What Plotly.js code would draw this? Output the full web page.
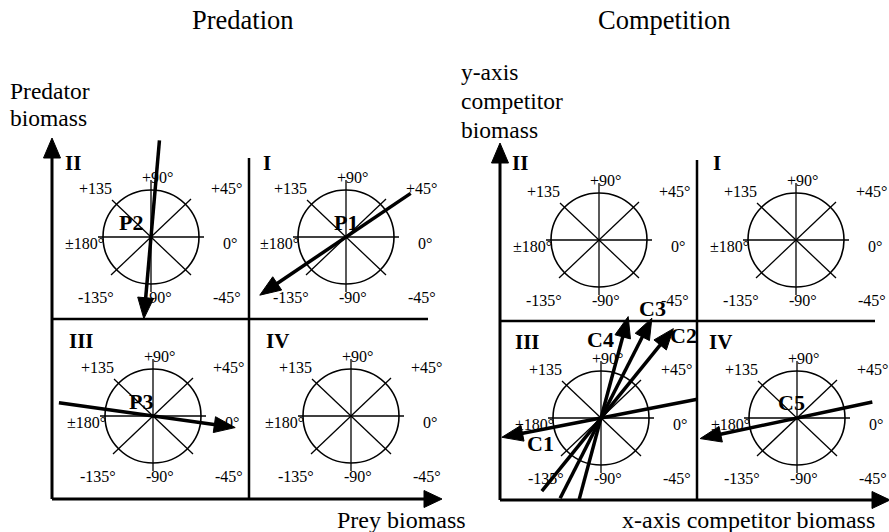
<!DOCTYPE html>
<html><head><meta charset="utf-8">
<script src="https://cdn.plot.ly/plotly-3.0.1.min.js"></script>
<style>html,body{margin:0;padding:0;background:#fff}</style>
</head><body><div id="plot" style="width:889px;height:532px"></div>
<script>
// ---- data ----
const quadrants = ['I', 'II', 'III', 'IV'];
const dirLabels = ['+90°', '+135', '+45°', '±180°', '0°', '-135°', '-90°', '-45°'];
const dirLabelOffsets = [[6,-60],[-56,-49],[75,-49],[-67,6],[79,6],[-55,60],[7,60],[76,60]];

const predNames = ['P1', 'P2', 'P3'];
const predQuad = ['I', 'II', 'III'];
const predAngle = [-146, -95, -8];      // degrees, direction of arrow head
const predHeadLen = [104, 82, 83];       // distance centre -> tip
const predTailLen = [78, 97, 95];        // distance centre -> tail
const predLabelPos = [[0,-15],[-20,-15],[-12,-15]];

const compNames = ['C1', 'C2', 'C3', 'C4', 'C5'];
const compQuad = ['III', 'III', 'III', 'III', 'IV'];
const compAngle = [-169, 51, 63, 75, -168];
const compHeadLen = [101, 115, 112, 105, 99];
const compTailLen = [98, 94, 90, 84, 77];
const compLabelPos = [[-61,25],[82,-83],[51,-110],[-1,-79],[-6,-16]];

// ---- panel geometry (layout, not data) ----
const panels = [
  {ox:52, oy:499, ytip:138, xtip:442, vdx:249, vdTop:158, hdy:319, hdEnd:428,
   centers:{I:[346,237], II:[151,237], III:[153,416], IV:[351,416]},
   numerals:{I:[267,163], II:[73,163], III:[81,341], IV:[277,341]}},
  {ox:500, oy:500, ytip:143, xtip:890, vdx:697, vdTop:160, hdy:321, hdEnd:875,
   centers:{I:[796,240], II:[599,240], III:[601,418], IV:[797,418]},
   numerals:{I:[717,163], II:[520,163], III:[527,342], IV:[720,342]}}
];

const shapes = [], annotations = [], traces = [];
const serif = 'Liberation Serif';
function line(x0,y0,x1,y1,w){shapes.push({type:'line',xref:'x',yref:'y',x0,y0,x1,y1,line:{color:'#000',width:w}});}
function tri(tx,ty,ang,len,half){ // ang in screen radians (y down)
  const bx=tx-len*Math.cos(ang), by=ty-len*Math.sin(ang);
  const px=-Math.sin(ang)*half, py=Math.cos(ang)*half;
  traces.push({type:'scatter',mode:'lines',x:[tx,bx+px,bx-px,tx],y:[ty,by+py,by-py,ty],
    fill:'toself',fillcolor:'#000',line:{color:'#000',width:1},hoverinfo:'skip',showlegend:false});
}
function text(x,y,t,size,bold,xanchor){
  annotations.push({xref:'x',yref:'y',x,y,text:bold?'<b>'+t+'</b>':t,showarrow:false,
    xanchor:xanchor||'center',yanchor:'middle',align:xanchor==='left'?'left':'center',
    font:{family:serif,size:size,color:'#000'}});
}

panels.forEach(p=>{
  line(p.ox,p.oy,p.ox,p.ytip+16,3);
  tri(p.ox,p.ytip,-Math.PI/2,20,8.5);
  line(p.ox,p.oy,p.xtip-16,p.oy,3);
  tri(p.xtip,p.oy,0,18,8.5);
  line(p.vdx,p.vdTop,p.vdx,p.oy,2.5);
  line(p.ox,p.hdy,p.hdEnd,p.hdy,2.5);
  quadrants.forEach(q=>{
    const [cx,cy]=p.centers[q];
    shapes.push({type:'circle',xref:'x',yref:'y',x0:cx-48,x1:cx+48,y0:cy-47,y1:cy+47,line:{color:'#000',width:1.6}});
    line(cx-53,cy,cx+53,cy,1.3);
    line(cx,cy-57,cx,cy+55,1.3);
    line(cx-39,cy-37,cx+40,cy+38,1.3);
    line(cx-40,cy+38,cx+40,cy-38,1.3);
    dirLabels.forEach((t,i)=>text(cx+dirLabelOffsets[i][0],cy+dirLabelOffsets[i][1],t,16,false));
    const [nx,ny]=p.numerals[q];
    text(nx,ny,q,21,true);
  });
});

function drawArrows(panel,names,quad,ang,hl,tl,lp){
  names.forEach((n,i)=>{
    const [cx,cy]=panel.centers[quad[i]];
    const a=-ang[i]*Math.PI/180;
    const tx=cx+hl[i]*Math.cos(a), ty=cy+hl[i]*Math.sin(a);
    const sx=cx-tl[i]*Math.cos(a), sy=cy-tl[i]*Math.sin(a);
    const ex=tx-16*Math.cos(a), ey=ty-16*Math.sin(a);
    traces.push({type:'scatter',mode:'lines',x:[sx,ex],y:[sy,ey],line:{color:'#000',width:3.5},hoverinfo:'skip',showlegend:false});
    tri(tx,ty,a,21,8);
    text(cx+lp[i][0],cy+lp[i][1],n,22,true);
  });
}
drawArrows(panels[0],predNames,predQuad,predAngle,predHeadLen,predTailLen,predLabelPos);
drawArrows(panels[1],compNames,compQuad,compAngle,compHeadLen,compTailLen,compLabelPos);

text(243,20,'Predation',26.5,false);
text(664,20,'Competition',26.5,false);
text(8,91,'Predator',23.5,false,'left');
text(8,118,'biomass',23.5,false,'left');
text(459,72,'y-axis',23.5,false,'left');
text(459,101,'competitor',23.5,false,'left');
text(459,130,'biomass',23.5,false,'left');
text(401,520,'Prey biomass',24,false);
text(748,520,'x-axis competitor biomass',24,false);

Plotly.newPlot('plot',traces,{
  width:889,height:532,margin:{l:0,r:0,t:0,b:0},
  paper_bgcolor:'#fff',plot_bgcolor:'#fff',showlegend:false,
  xaxis:{range:[0,889],visible:false,fixedrange:true},
  yaxis:{range:[532,0],visible:false,fixedrange:true},
  shapes,annotations
},{staticPlot:true});
</script></body></html>
